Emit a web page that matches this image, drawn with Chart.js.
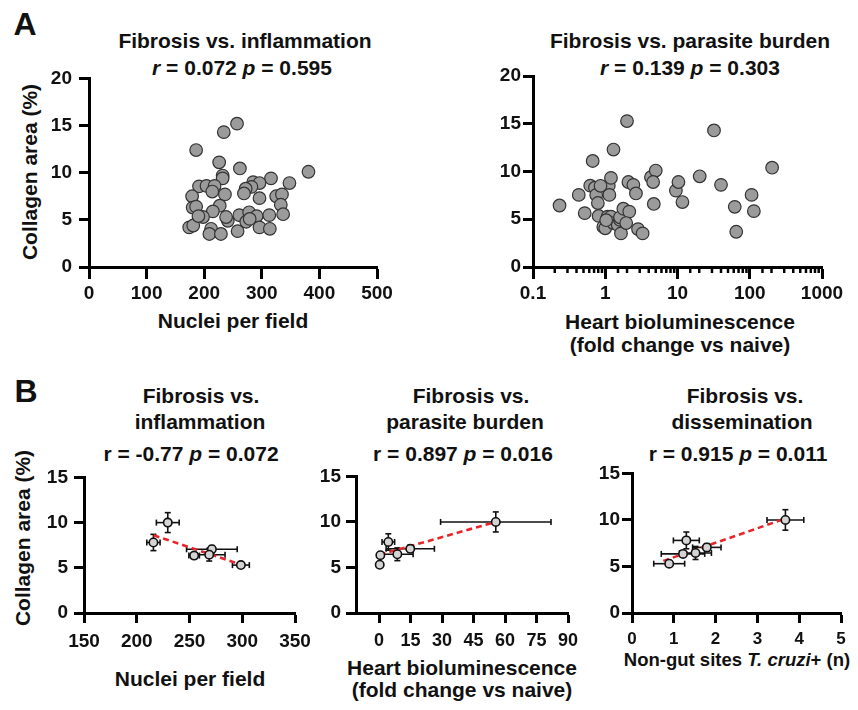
<!DOCTYPE html>
<html>
<head>
<meta charset="utf-8">
<script src="https://cdn.jsdelivr.net/npm/chart.js@4.4.1/dist/chart.umd.min.js"></script>
<style>
  body { margin: 0; background: #fff; width: 858px; height: 710px; position: relative; overflow: hidden;
         font-family: 'Liberation Sans', Arial, sans-serif; font-weight: bold; color: #111; }
  .box { position: absolute; }
  .t { position: absolute; white-space: nowrap; line-height: 1; transform: translate(-50%, -50%); font-size: 21px; }
  .yt { position: absolute; white-space: nowrap; line-height: 1; transform: translate(-50%, -50%) rotate(-90deg); font-size: 21px; }
  .letter { position: absolute; font-size: 32px; line-height: 1; transform: translate(-50%, -50%); }
</style>
</head>
<body>

<div class="letter" style="left:25px;top:24px">A</div>
<div class="letter" style="left:26px;top:391px">B</div>

<!-- panel A titles -->
<div class="t" style="left:245px;top:40px">Fibrosis vs. inflammation</div>
<div class="t" style="left:242px;top:67px"><i>r</i> = 0.072 <i>p</i> = 0.595</div>
<div class="t" style="left:690px;top:40px">Fibrosis vs. parasite burden</div>
<div class="t" style="left:690px;top:67px"><i>r</i> = 0.139 <i>p</i> = 0.303</div>
<div class="yt" style="left:29px;top:172px">Collagen area (%)</div>
<div class="t" style="left:233px;top:320px">Nuclei per field</div>
<div class="t" style="left:680px;top:321px">Heart bioluminescence</div>
<div class="t" style="left:680px;top:344px">(fold change vs naive)</div>

<!-- panel B titles -->
<div class="t" style="left:201px;top:395px">Fibrosis vs.</div>
<div class="t" style="left:200px;top:421px">inflammation</div>
<div class="t" style="left:191px;top:453px">r = -0.77 <i>p</i> = 0.072</div>
<div class="t" style="left:471px;top:395px">Fibrosis vs.</div>
<div class="t" style="left:465px;top:421px">parasite burden</div>
<div class="t" style="left:463px;top:453px">r = 0.897 <i>p</i> = 0.016</div>
<div class="t" style="left:745px;top:395px">Fibrosis vs.</div>
<div class="t" style="left:742px;top:421px">dissemination</div>
<div class="t" style="left:738px;top:453px">r = 0.915 <i>p</i> = 0.011</div>
<div class="yt" style="left:22px;top:538px">Collagen area (%)</div>
<div class="t" style="left:190px;top:678px">Nuclei per field</div>
<div class="t" style="left:462px;top:667px">Heart bioluminescence</div>
<div class="t" style="left:462px;top:689px">(fold change vs naive)</div>
<div class="t" style="left:737px;top:660px;font-size:18.5px">Non-gut sites <i>T. cruzi</i>+ (n)</div>

<div class="box" style="left:0;top:60px;width:400px;height:250px"><canvas id="a1"></canvas></div>
<div class="box" style="left:420px;top:60px;width:438px;height:250px"><canvas id="a2"></canvas></div>
<div class="box" style="left:0;top:460px;width:320px;height:240px"><canvas id="b1"></canvas></div>
<div class="box" style="left:310px;top:460px;width:280px;height:240px"><canvas id="b2"></canvas></div>
<div class="box" style="left:590px;top:460px;width:268px;height:240px"><canvas id="b3"></canvas></div>

<script>
// A: individual animals
var a1Nuclei = [257, 234, 186, 226, 262, 381, 232, 232, 316, 348, 191, 204, 218, 285, 296, 282, 272, 269, 214, 236,
  179, 296, 325, 335, 180, 186, 227, 333, 337, 215, 198, 261, 278, 291, 313, 241, 273, 174, 181, 212,
  209, 229, 258, 296, 314, 279, 238, 190];
var a1Collagen = [15.2, 14.3, 12.4, 11.1, 10.45, 10.1, 9.7, 9.4, 9.4, 8.9, 8.55, 8.6, 8.6, 9.0, 8.9, 8.5, 8.3, 7.8, 8.0, 7.7,
  7.5, 7.3, 7.5, 7.7, 6.3, 6.4, 6.5, 6.6, 5.6, 5.9, 5.3, 5.5, 5.8, 5.4, 5.5, 4.9, 4.8, 4.2, 4.4, 4.05,
  3.5, 3.5, 3.8, 4.2, 4.05, 5.1, 5.3, 5.4];

var a2Biolum = [0.233, 0.43, 0.52, 0.67, 0.62, 0.72, 0.75, 0.79, 0.81, 0.94, 1.0, 1.08, 1.12, 1.2, 1.14, 1.3, 1.2, 1.29,
  1.49, 1.65, 1.6, 1.6, 1.78, 2.15, 2.0, 2.09, 2.45, 2.66, 1.95, 2.84, 3.29, 4.29, 5.0, 4.6, 4.7, 9.5, 10.3, 11.7,
  20.3, 32, 40, 62, 65, 106, 114, 204, 1.03, 0.86];
var a2Collagen = [6.44, 7.55, 5.64, 11.1, 8.52, 8.3, 7.55, 6.7, 5.35, 4.2, 4.05, 5.28, 8.52, 9.33, 7.55, 12.3, 5.28, 4.6,
  4.4, 3.52, 4.93, 5.2, 6.1, 5.8, 15.28, 8.9, 8.6, 7.7, 4.6, 3.97, 3.52, 9.4, 10.1, 8.9, 6.6, 8.0, 8.9, 6.8,
  9.5, 14.3, 8.6, 6.3, 3.69, 7.55, 5.85, 10.4, 4.9, 8.5];

// B: group means +/- error
var bCollagen    = [10.0, 7.8, 7.05, 6.45, 6.35, 5.3];
var bCollagenErr = [1.1, 0.9, 0.4, 0.7, 0.3, 0.2];
var bNuclei      = [229.4, 215.8, 271.2, 268.7, 254.4, 298.7];
var bNucleiErr   = [10.8, 6.3, 24, 15, 5, 8];
var bBiolum      = [55.6, 4.4, 14.85, 8.7, 0.6, 0.3];
var bBiolumErr   = [26.3, 3, 11.5, 7.5, 0, 0];
var bSites       = [3.67, 1.3, 1.79, 1.52, 1.22, 0.89];
var bSitesErr    = [0.44, 0.31, 0.34, 0.38, 0.52, 0.37];

// dashed fit lines (end points)
var b1FitX = [216, 299], b1FitY = [8.6, 5.35];
var b2FitX = [0.3, 55.6], b2FitY = [6.4, 10.0];
var b3FitX = [0.75, 3.67], b3FitY = [5.6, 10.15];

var b2Ticks = [0, 15, 30, 45, 60, 75, 90];

var FONT = "'Liberation Sans', Arial, sans-serif";

function pts(xs, ys) {
  return xs.map(function (v, i) { return { x: v, y: ys[i] }; });
}

function isPow10(v) {
  var l = Math.log10(v);
  return Math.abs(l - Math.round(l)) < 1e-6;
}

var errorBars = {
  id: 'errorBars',
  beforeDatasetsDraw: function (chart) {
    var ds = chart.data.datasets[0];
    if (!ds.xErr) return;
    var ctx = chart.ctx, xs = chart.scales.x, ys = chart.scales.y;
    ctx.save();
    ctx.strokeStyle = '#111';
    ctx.lineWidth = 1.6;
    function seg(x1, y1, x2, y2) { ctx.beginPath(); ctx.moveTo(x1, y1); ctx.lineTo(x2, y2); ctx.stroke(); }
    ds.data.forEach(function (p, i) {
      var px = xs.getPixelForValue(p.x), py = ys.getPixelForValue(p.y);
      var ex = ds.xErr[i], ey = ds.yErr[i];
      if (ex) {
        var l = xs.getPixelForValue(p.x - ex), r = xs.getPixelForValue(p.x + ex);
        seg(l, py, r, py); seg(l, py - 3, l, py + 3); seg(r, py - 3, r, py + 3);
      }
      if (ey) {
        var t = ys.getPixelForValue(p.y + ey), b = ys.getPixelForValue(p.y - ey);
        seg(px, t, px, b); seg(px - 3, t, px + 3, t); seg(px - 3, b, px + 3, b);
      }
    });
    ctx.restore();
  }
};

var minorTicks = {
  id: 'minorTicks',
  afterDraw: function (chart) {
    var xs = chart.scales.x;
    if (xs.type !== 'logarithmic') return;
    var ctx = chart.ctx, b = chart.chartArea.bottom;
    ctx.save();
    ctx.strokeStyle = '#000';
    ctx.lineWidth = 2.5;
    xs.ticks.forEach(function (t) {
      if (isPow10(t.value)) return;
      var px = xs.getPixelForValue(t.value);
      ctx.beginPath(); ctx.moveTo(px, b); ctx.lineTo(px, b + 6); ctx.stroke();
    });
    ctx.restore();
  }
};

function makeOptions(o) {
  var x = {
    type: o.xType || 'linear',
    min: o.xMin, max: o.xMax,
    grid: { display: true, drawOnChartArea: false, drawTicks: true, tickLength: o.xTickLen || 10,
            tickWidth: 3, tickColor: o.xTickColor || '#000' },
    border: { display: true, color: '#000', width: 3 },
    ticks: { color: '#111', padding: o.xPad, maxRotation: 0, autoSkip: false,
             font: { family: FONT, size: o.xFont, weight: 'bold' } },
    afterFit: function (s) { s.height = o.xH; }
  };
  if (o.xStep) x.ticks.stepSize = o.xStep;
  if (o.xCallback) x.ticks.callback = o.xCallback;
  if (o.xTicks) x.afterBuildTicks = function (s) { s.ticks = o.xTicks.map(function (v) { return { value: v }; }); };
  return {
    responsive: true, maintainAspectRatio: false, animation: false,
    layout: { autoPadding: false, padding: { top: o.padTop, right: o.padRight, left: 0, bottom: 0 } },
    plugins: { legend: { display: false }, tooltip: { enabled: false } },
    scales: {
      x: x,
      y: {
        min: 0, max: o.yMax,
        grid: { display: true, drawOnChartArea: false, drawTicks: true, tickLength: 10, tickWidth: 3, tickColor: '#000' },
        border: { display: true, color: '#000', width: 3 },
        ticks: { stepSize: 5, color: '#111', padding: o.yPad, font: { family: FONT, size: 19, weight: 'bold' } },
        afterFit: function (s) { s.width = o.yW; }
      }
    }
  };
}

function animalSet(xs, ys) {
  return {
    data: pts(xs, ys),
    backgroundColor: '#9b9b9b', borderColor: '#333', borderWidth: 1.2, pointRadius: 6.3
  };
}

function groupSet(xs, ys, xErr, yErr) {
  return {
    data: pts(xs, ys), xErr: xErr, yErr: yErr, order: 0,
    backgroundColor: '#d4d4d4', borderColor: '#111', borderWidth: 1.6, pointRadius: 4.2
  };
}

function fitSet(xs, ys) {
  return {
    data: pts(xs, ys), showLine: true, order: 1, pointRadius: 0,
    borderColor: '#e8262a', borderWidth: 2.6, borderDash: [6, 4]
  };
}

// Panel A
new Chart(document.getElementById('a1'), {
  type: 'scatter',
  data: { datasets: [animalSet(a1Nuclei, a1Collagen)] },
  options: makeOptions({ xMin: 0, xMax: 500, xStep: 100, xFont: 19, xPad: 3, xH: 43, xTickLen: 12,
    yMax: 20, yW: 89, yPad: 7, padTop: 16, padRight: 23 })
});

new Chart(document.getElementById('a2'), {
  type: 'scatter',
  data: { datasets: [animalSet(a2Biolum, a2Collagen)] },
  options: makeOptions({ xType: 'logarithmic', xMin: 0.1, xMax: 1000, xFont: 19, xPad: 3, xH: 43, xTickLen: 12,
    xTickColor: function (c) { return c.tick && isPow10(c.tick.value) ? '#000' : 'rgba(0,0,0,0)'; },
    xCallback: function (v) { return isPow10(v) ? String(+Number(v).toPrecision(3)) : ''; },
    yMax: 20, yW: 113, yPad: 2, padTop: 16, padRight: 36 }),
  plugins: [minorTicks]
});

// Panel B
new Chart(document.getElementById('b1'), {
  type: 'scatter',
  data: { datasets: [groupSet(bNuclei, bCollagen, bNucleiErr, bCollagenErr), fitSet(b1FitX, b1FitY)] },
  options: makeOptions({ xMin: 150, xMax: 350, xStep: 50, xFont: 19, xPad: 7, xH: 87,
    yMax: 15, yW: 84, yPad: 6, padTop: 12, padRight: 25 }),
  plugins: [errorBars]
});

new Chart(document.getElementById('b2'), {
  type: 'scatter',
  data: { datasets: [groupSet(bBiolum, bCollagen, bBiolumErr, bCollagenErr), fitSet(b2FitX, b2FitY)] },
  options: makeOptions({ xMin: -11, xMax: 90, xTicks: b2Ticks, xFont: 18, xPad: 7, xH: 87,
    yMax: 15, yW: 46, yPad: 5, padTop: 12, padRight: 22 }),
  plugins: [errorBars]
});

new Chart(document.getElementById('b3'), {
  type: 'scatter',
  data: { datasets: [groupSet(bSites, bCollagen, bSitesErr, bCollagenErr), fitSet(b3FitX, b3FitY)] },
  options: makeOptions({ xMin: 0, xMax: 5, xStep: 1, xFont: 17, xPad: 6, xH: 87,
    yMax: 15, yW: 42, yPad: 2, padTop: 12, padRight: 17 }),
  plugins: [errorBars]
});
</script>
</body>
</html>
